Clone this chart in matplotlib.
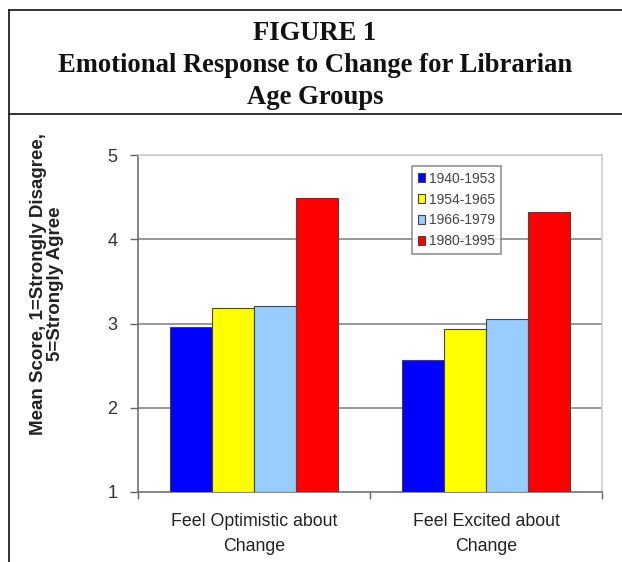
import matplotlib
matplotlib.use("Agg")
import matplotlib.pyplot as plt
from matplotlib.lines import Line2D
import numpy as np

categories = ["Feel Optimistic about\nChange", "Feel Excited about\nChange"]
series_names = ["1940-1953", "1954-1965", "1966-1979", "1980-1995"]
values_1940_1953 = [2.96, 2.57]
values_1954_1965 = [3.18, 2.93]
values_1966_1979 = [3.21, 3.05]
values_1980_1995 = [4.49, 4.32]
series_values = [values_1940_1953, values_1954_1965, values_1966_1979, values_1980_1995]
colors = ["#0000FF", "#FFFF00", "#99CCFF", "#FF0000"]
y_ticks = [1, 2, 3, 4, 5]
title_lines = ["FIGURE 1", "Emotional Response to Change for Librarian", "Age Groups"]
y_label = "Mean Score, 1=Strongly Disagree,\n5=Strongly Agree"

W, H = 622, 562
fig = plt.figure(figsize=(W / 100, H / 100), dpi=100)

def fx(px):
    return px / W

def fy(py):
    return 1 - py / H

# frame lines of the figure box
fig.add_artist(Line2D([fx(9), fx(622)], [fy(10), fy(10)], color="#222222", lw=1.3))
fig.add_artist(Line2D([fx(9), fx(622)], [fy(114), fy(114)], color="#222222", lw=1.3))
fig.add_artist(Line2D([fx(9), fx(9)], [fy(10), fy(562)], color="#222222", lw=1.3))

# title
title_y = [34, 65, 98]
for t, yy in zip(title_lines, title_y):
    fig.text(fx(315), fy(yy), t, ha="center", va="center",
             family="Liberation Serif", fontweight="bold", fontsize=19.2, color="#111111")

left, right, top, bottom = 138, 602, 155, 492
ax = fig.add_axes([fx(left), fy(bottom), fx(right - left), (bottom - top) / H])

n_series = len(series_values)
bw = 0.182
x = np.arange(len(categories)) + 0.5
for i, (vals, c, name) in enumerate(zip(series_values, colors, series_names)):
    offs = (i - (n_series - 1) / 2) * bw
    ax.bar(x + offs, np.array(vals) - 1, bottom=1, width=bw, color=c,
           edgecolor="#444444", linewidth=0.8, label=name, zorder=3)

ax.set_xlim(0, len(categories))
ax.set_ylim(1, 5)
ax.set_yticks(y_ticks)
ax.set_yticklabels([str(v) for v in y_ticks], family="Liberation Sans", fontsize=13, color="#333333")
for v in y_ticks[1:-1]:
    ax.axhline(v, color="#888888", lw=1.2, zorder=1)
ax.axhline(5, color="#cccccc", lw=1.2, zorder=1)

ax.set_xticks(np.arange(len(categories) + 1))
ax.set_xticklabels([])
ax.set_xticks(x, minor=True)
ax.set_xticklabels(categories, minor=True, family="Liberation Sans", fontsize=12.8,
                   color="#222222", linespacing=1.6)
ax.tick_params(axis="x", which="minor", length=0, pad=15)
ax.tick_params(axis="x", which="major", length=5, color="#666666", width=1)
ax.tick_params(axis="y", length=6, color="#666666", width=1, pad=9)

for s in ["left", "bottom"]:
    ax.spines[s].set_color("#666666")
    ax.spines[s].set_linewidth(1.1)
for s in ["top", "right"]:
    ax.spines[s].set_color("#cccccc")
    ax.spines[s].set_linewidth(1.1)

fig.text(fx(47), fy(284), y_label, rotation=90, ha="center", va="center",
         family="Liberation Sans", fontweight="bold", fontsize=13.5, color="#222222",
         linespacing=1.05)

leg = ax.legend(loc="upper left", bbox_to_anchor=(fx(412), fy(166)),
                bbox_transform=fig.transFigure, frameon=True, fancybox=False,
                prop={"family": "Liberation Sans", "size": 10},
                handlelength=0.55, handleheight=0.55, handletextpad=0.3,
                labelspacing=0.5, borderpad=0.4, borderaxespad=0)
leg.get_frame().set_edgecolor("#777777")
leg.get_frame().set_linewidth(1.2)
for t in leg.get_texts():
    t.set_color("#444444")
leg.set_zorder(5)

fig.savefig("out.png", dpi=100)
